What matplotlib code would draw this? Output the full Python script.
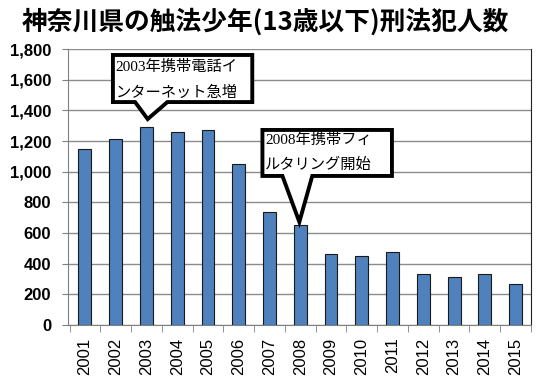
import matplotlib
matplotlib.use("Agg")
import matplotlib.pyplot as plt
from matplotlib.patches import Polygon
import numpy as np

years = ["2001", "2002", "2003", "2004", "2005", "2006", "2007", "2008",
         "2009", "2010", "2011", "2012", "2013", "2014", "2015"]
counts = [1150, 1210, 1290, 1260, 1270, 1050, 740, 655,
          460, 450, 475, 330, 310, 330, 265]
yticks = list(range(0, 1801, 200))
title = "神奈川県の触法少年(13歳以下)刑法犯人数"
note1 = ["2003年携帯電話イ", "ンターネット急増"]
note2 = ["2008年携帯フィ", "ルタリング開始"]

fig = plt.figure(figsize=(5.42, 3.87), dpi=100)
ax = fig.add_axes([68/542, 62/387, (531-68)/542, (325-49)/387])

x = np.arange(len(years))
ax.bar(x, counts, width=0.42, color="#4F81BD", edgecolor="#1a1a1a", linewidth=0.8, zorder=3)

ax.set_xlim(-0.55, len(years) - 0.55)
ax.set_ylim(0, 1800)
ax.set_yticks(yticks)
ax.set_yticklabels([f"{v:,}" for v in yticks], fontfamily="Liberation Sans",
                   fontweight="bold", fontsize=12)
ax.yaxis.grid(True, color="#8c8c8c", linewidth=1.0, zorder=0)
ax.tick_params(axis="y", length=4, color="#808080", pad=8)

ax.set_xticks(x)
ax.set_xticklabels(years, rotation=90, fontfamily="Liberation Sans", fontsize=12)
ax.set_xticks(np.arange(len(years) + 1) - 0.5, minor=True)
ax.tick_params(axis="x", which="major", length=0, pad=9)
ax.tick_params(axis="x", which="minor", length=5, color="#808080")

for s in ["left", "bottom"]:
    ax.spines[s].set_color("#808080")
ax.spines["right"].set_color("#222222")
ax.spines["top"].set_visible(False)

def callout(bx0, bx1, by0, by1, px0, px1, tx, ty, lines, ly):
    pts = [(bx0, by1), (bx1, by1), (bx1, by0), (px1, by0), (tx, ty),
           (px0, by0), (bx0, by0)]
    poly = Polygon(pts, closed=True, facecolor="white", edgecolor="black",
                   linewidth=2.8, joinstyle="miter", zorder=5, clip_on=False)
    ax.add_patch(poly)
    for line, yy in zip(lines, ly):
        ax.text(bx0 + 0.08, yy, line, ha="left", va="center", fontsize=11,
                family=["Liberation Serif", "Noto Sans CJK JP"], zorder=6)

callout(0.91, 5.44, 1454, 1761, 1.63, 2.68, 2.04, 1343, note1, [1680, 1518])
callout(5.77, 9.98, 972, 1272, 6.42, 7.39, 6.97, 672, note2, [1208, 1045])

fig.text(0.490, 0.943, title, ha="center", va="center", fontsize=18.5,
         fontweight="bold", family=["Noto Sans CJK JP", "DejaVu Sans"])

fig.savefig("out.png", dpi=100)
